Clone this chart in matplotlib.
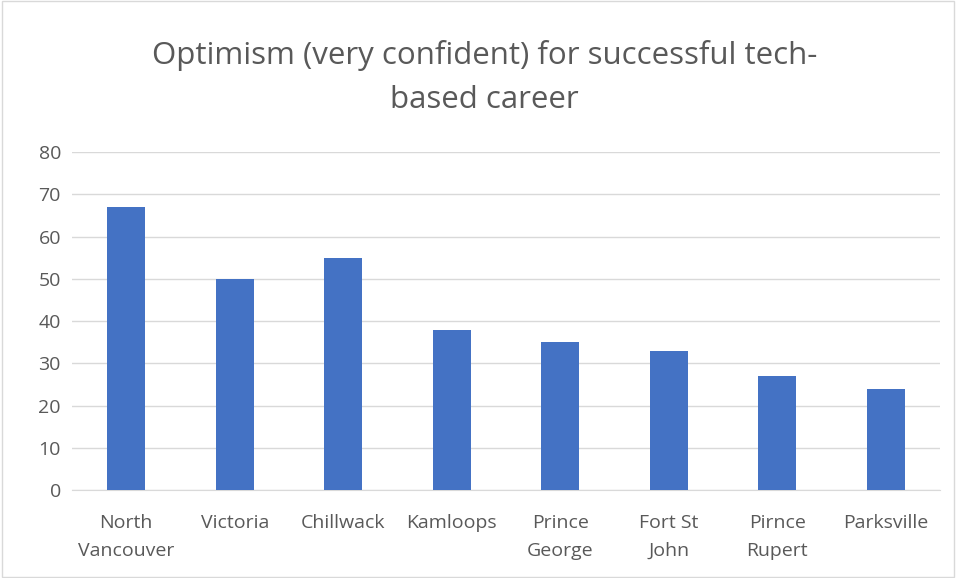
import matplotlib.pyplot as plt
from matplotlib.patches import Rectangle

# data
cities = ['North\nVancouver', 'Victoria', 'Chillwack', 'Kamloops', 'Prince\nGeorge',
          'Fort St\nJohn', 'Pirnce\nRupert', 'Parksville']
very_confident = [67, 50, 55, 38, 35, 33, 27, 24]
yticks = [0, 10, 20, 30, 40, 50, 60, 70, 80]

txt = '#595959'
plt.rcParams['font.family'] = ['Open Sans', 'DejaVu Sans']

fig = plt.figure(figsize=(9.56, 5.78), dpi=100)
ax = fig.add_axes([0.0753, 0.152, 0.908, 0.585])

ax.bar(range(len(cities)), very_confident, width=0.35, color='#4472C4', zorder=3)

ax.set_xlim(-0.5, len(cities) - 0.5)
ax.set_ylim(0, 80)
ax.set_yticks(yticks)
ax.set_xticks(range(len(cities)))
ax.set_xticklabels(cities, fontsize=14, color=txt, linespacing=1.75)
ax.tick_params(axis='y', labelsize=14, labelcolor=txt, length=0, pad=8)
ax.tick_params(axis='x', length=0, pad=17)
ax.grid(axis='y', color='#d9d9d9', linewidth=1, zorder=0)
for s in ['top', 'right', 'left']:
    ax.spines[s].set_visible(False)
ax.spines['bottom'].set_color('#d9d9d9')

fig.text(0.507, 0.866, 'Optimism (very confident) for successful tech-\nbased career',
         ha='center', va='center', fontsize=22.5, color=txt, linespacing=1.6)

fig.patches.append(Rectangle((0.002, 0.002), 0.996, 0.996, transform=fig.transFigure,
                             fill=False, edgecolor='#d9d9d9', linewidth=1))

fig.savefig('out.png', dpi=100)
